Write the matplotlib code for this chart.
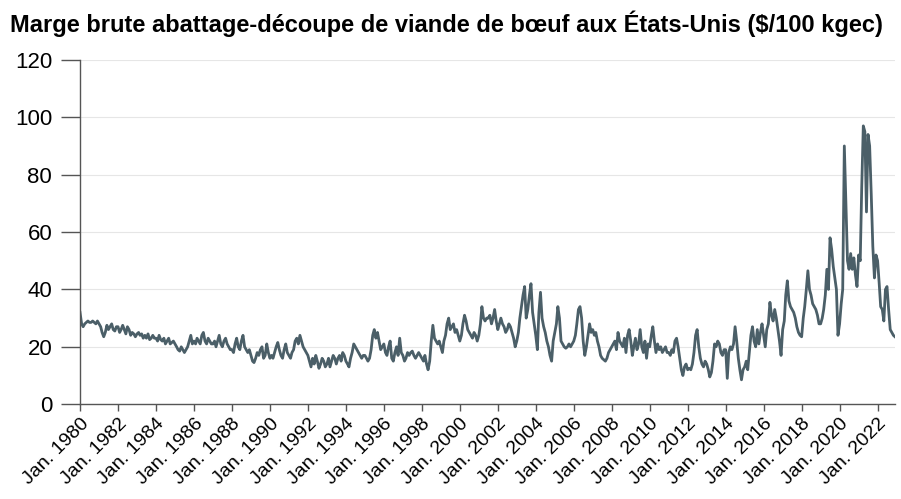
import numpy as np
import pandas as pd
import matplotlib
matplotlib.use("Agg")
from matplotlib import pyplot as plt

# monthly gross margin, $/100 kg carcass (Jan 1980 - Dec 2022)
y1980 = [32, 28, 27, 28, 28.5, 29, 28.5, 28.5, 29, 28.5, 28, 29]
y1981 = [28, 27, 25, 23.5, 25, 27.5, 26, 27, 28, 26, 25.5, 27]
y1982 = [27, 25, 26, 27.5, 26, 24.5, 27, 26, 24, 25, 24.5, 23.5]
y1983 = [24.5, 25, 24, 24.5, 23, 24, 23, 24.5, 22.5, 23, 24, 23]
y1984 = [23, 22, 24, 22.5, 22, 23, 21, 22, 23, 21, 21.5, 22]
y1985 = [21, 20, 19, 18.5, 20, 19, 18, 19, 20, 22, 24, 21]
y1986 = [22, 21, 23, 22, 21, 24, 25, 22, 21, 23, 22, 21]
y1987 = [21, 22, 20, 22, 24, 21, 20, 22, 23, 21, 20, 19]
y1988 = [19, 18, 21, 23, 20, 19, 22, 24, 20, 19, 18, 19]
y1989 = [17, 15, 14.5, 16, 18, 17, 19, 20, 16, 17, 21, 18]
y1990 = [16, 17, 16, 18, 20, 21.5, 19, 17, 16, 19, 21, 18]
y1991 = [17, 16, 18, 19, 22, 23, 21, 24, 22, 20, 19, 18]
y1992 = [17, 15, 13, 16, 14, 17, 15, 12.5, 14, 16, 15, 13]
y1993 = [14, 16, 13, 15, 17, 16, 14, 16, 17, 15, 18, 17]
y1994 = [15, 14, 13, 16, 18, 21, 20, 19, 18, 17, 16, 17]
y1995 = [17, 16, 15, 16, 19, 24, 26, 23, 25, 22, 19, 20]
y1996 = [21, 18, 17, 20, 22, 16, 15, 18, 20, 17, 23, 18]
y1997 = [17, 15, 16, 18, 17, 18, 18.5, 17, 16, 17, 18, 17]
y1998 = [16, 15, 17, 14, 12, 15, 22, 27.5, 23, 22, 21, 22]
y1999 = [20, 18, 22, 24, 28, 30, 26, 27, 28, 25, 26, 24]
y2000 = [22, 24, 28, 31, 29, 26, 25, 24, 23, 25, 24, 22]
y2001 = [24, 28, 34, 30, 29, 30, 30, 31, 28, 30, 33, 29]
y2002 = [26, 28, 30, 28, 27, 25, 26, 28, 27, 25, 23, 20]
y2003 = [22, 25, 30, 34, 38, 41, 30, 33, 38, 42, 32, 28]
y2004 = [24, 19, 32, 39, 30, 27, 25, 22, 20, 17, 15, 22]
y2005 = [25, 28, 34, 30, 22, 21, 20, 19.5, 20, 21, 20, 21]
y2006 = [22, 24, 28, 33, 34, 30, 22, 17, 20, 24, 28, 25]
y2007 = [26, 24, 25, 22, 20, 17, 16, 15.5, 15, 16, 18, 19]
y2008 = [20, 21, 22, 19, 25, 22, 21, 20, 23, 18, 24, 26]
y2009 = [22, 17, 20, 23, 19, 21, 26, 20, 18, 22, 16, 21]
y2010 = [20, 24, 27, 22, 18, 21, 19, 20, 18, 19, 20, 18]
y2011 = [18, 17, 19, 18, 22, 23, 20, 16, 12, 10, 13, 14]
y2012 = [12, 12.5, 12, 14, 18, 24, 26, 20, 16, 14, 13, 15]
y2013 = [14, 12, 9.5, 11, 15, 21, 20, 22, 21, 18, 17, 19]
y2014 = [19, 9, 18, 20, 19, 21, 27, 22, 16, 12, 8.5, 12]
y2015 = [13, 15, 12, 18, 24, 27, 22, 20, 26, 21, 25, 28]
y2016 = [24, 20, 26, 28, 35.5, 31, 29, 33, 30, 26, 22, 17]
y2017 = [26, 29, 38, 43, 36, 34, 33, 32, 30, 27, 25, 24]
y2018 = [23.5, 30, 34, 40, 46.5, 40, 38, 35, 34, 33, 31, 28]
y2019 = [28, 30, 33, 38, 47, 40, 58, 54, 48, 44, 40, 24]
y2020 = [28, 35, 40, 90, 70, 50, 47, 52.5, 47, 51, 45, 41]
y2021 = [52, 50, 75, 97, 95, 67, 94, 90, 73, 55, 44, 52]
y2022 = [50, 42, 34, 33, 29, 40, 41, 33, 26, 25, 24, 23.5]

years = [y1980, y1981, y1982, y1983, y1984, y1985, y1986, y1987, y1988, y1989,
         y1990, y1991, y1992, y1993, y1994, y1995, y1996, y1997, y1998, y1999,
         y2000, y2001, y2002, y2003, y2004, y2005, y2006, y2007, y2008, y2009,
         y2010, y2011, y2012, y2013, y2014, y2015, y2016, y2017, y2018, y2019,
         y2020, y2021, y2022]
margin = np.concatenate(years)
dates = pd.date_range("1980-01-01", periods=len(margin), freq="MS")

tick_years = list(range(1980, 2023, 2))
tick_labels = ["Jan. %d" % y for y in tick_years]

plt.rcParams["font.family"] = ["Liberation Sans", "DejaVu Sans"]

fig = plt.figure(figsize=(9.01, 4.99), dpi=100)
ax = fig.add_axes([0.0888, 0.19, 0.9045, 0.69])

ax.plot(dates, margin, color="#4b5f68", linewidth=2.0)

ax.set_ylim(0, 120)
ax.set_xlim(dates[0], dates[-1])
ax.set_yticks(range(0, 121, 20))
ax.yaxis.grid(True, color="#e6e6e6", linewidth=0.8)
ax.set_axisbelow(True)

ticks = [pd.Timestamp("%d-01-01" % y) for y in tick_years]
ax.set_xticks(ticks)
ax.set_xticklabels(tick_labels, rotation=45, ha="right", rotation_mode="anchor")

for s in ["top", "right"]:
    ax.spines[s].set_visible(False)
for s in ["left", "bottom"]:
    ax.spines[s].set_color("#555555")
    ax.spines[s].set_linewidth(1.0)

ax.tick_params(axis="y", length=14, width=1, color="#555555", labelsize=16, pad=6)
ax.tick_params(axis="x", length=5, width=1, color="#555555", labelsize=14, pad=3)

fig.text(0.011, 0.952, "Marge brute abattage-découpe de viande de bœuf aux États-Unis ($/100 kgec)",
         fontsize=17, fontweight="bold", ha="left", va="center")

fig.savefig("out.png", dpi=100)
